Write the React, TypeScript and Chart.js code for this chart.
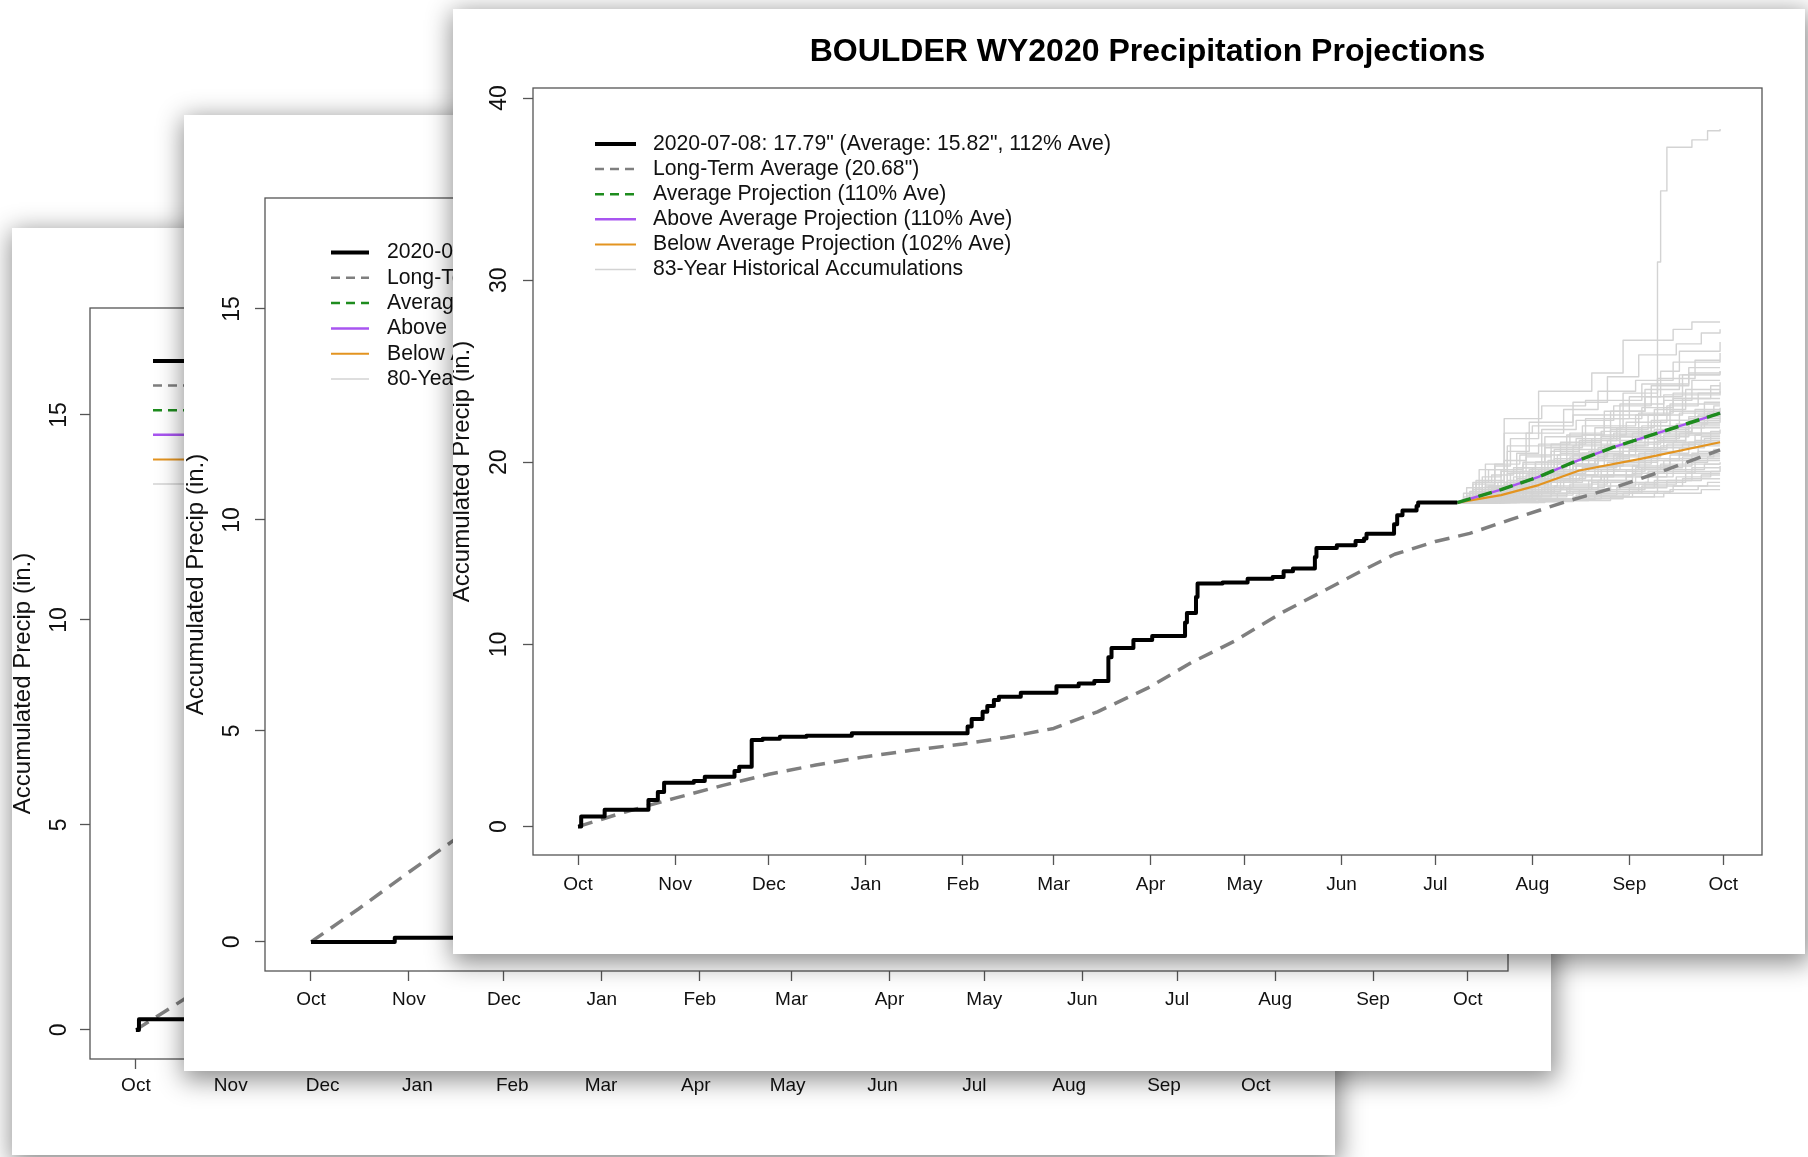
import React, { useEffect, useRef } from 'react';
import { Chart, registerables } from 'chart.js';

Chart.register(...registerables);

const FONT_FAMILY = "'Liberation Sans', Arial, Helvetica, sans-serif";
Chart.defaults.font.family = FONT_FAMILY;
Chart.defaults.color = '#111';

// ---------- shared axis data ----------
const monthDays = [0, 31, 61, 92, 123, 152, 183, 213, 244, 274, 305, 336, 366];
const monthLabels = ['Oct', 'Nov', 'Dec', 'Jan', 'Feb', 'Mar', 'Apr', 'May', 'Jun', 'Jul', 'Aug', 'Sep', 'Oct'];
const yTitle = 'Accumulated Precip (in.)';

// ---------- colours ----------
const BLACK = '#000000';
const AVG_GRAY = '#7F7F7F';
const GREEN = '#1E8C1E';
const PURPLE = '#A855F0';
const ORANGE = '#E39420';
const HIST_GRAY = '#D3D3D3';

// ---------- front chart (Boulder WY2020) ----------
const frontTitle = 'BOULDER WY2020 Precipitation Projections';
const frontYTicks = [0, 10, 20, 30, 40];
const frontLegendLabels = [
  '2020-07-08: 17.79" (Average: 15.82", 112% Ave)',
  'Long-Term Average (20.68")',
  'Average Projection (110% Ave)',
  'Above Average Projection (110% Ave)',
  'Below Average Projection (102% Ave)',
  '83-Year Historical Accumulations',
];
// [day of water year, accumulated inches] – each entry is the day a new level starts
const currentYear = [
  [0, 0], [1, 0.55], [8.5, 0.92], [22.5, 1.46], [25.5, 1.9], [27.5, 2.41], [37, 2.5], [40.5, 2.74],
  [50, 3.05], [51.5, 3.29], [55.5, 4.75], [59, 4.82], [64.5, 4.93], [73, 4.99], [87.5, 5.12],
  [124.5, 5.5], [125.8, 5.9], [129.3, 6.3], [130.8, 6.62], [132.9, 6.95], [134.5, 7.13], [141.5, 7.35],
  [152.9, 7.71], [160, 7.86], [165, 7.99], [169.5, 9.3], [170.5, 9.81], [177.5, 10.24], [183.5, 10.46],
  [194, 11.2], [194.6, 11.73], [197.5, 12.6], [198, 13.34], [206, 13.4], [214, 13.6], [222, 13.7],
  [225.5, 14.02], [228.5, 14.17], [235.5, 14.8], [236, 15.3], [242.5, 15.44], [248.5, 15.68],
  [251.2, 15.81], [252, 16.08], [260.8, 16.6], [261.8, 17.09], [263.5, 17.36], [268, 17.6],
  [268.5, 17.79], [281, 17.79],
];
const longTermAvg = [
  [0, 0], [15, 0.8], [31, 1.56], [46, 2.25], [61, 2.87], [76, 3.38], [92, 3.84], [107, 4.2],
  [123, 4.53], [137, 4.9], [152, 5.39], [166, 6.3], [182, 7.6], [196, 9.0], [210, 10.2],
  [225, 11.75], [239, 13.0], [250, 14.0], [261, 14.95], [274, 15.65], [285, 16.1], [298, 16.85],
  [315, 17.8], [331, 18.6], [348, 19.6], [365, 20.68],
];
const avgProjection = [[281, 17.79], [295, 18.5], [307, 19.2], [318, 20.0], [331, 20.83], [345, 21.6], [365, 22.7]];
const aboveProjection = [[281, 17.79], [295, 18.5], [307, 19.2], [318, 20.0], [331, 20.83], [345, 21.6], [365, 22.7]];
const belowProjection = [[281, 17.79], [295, 18.2], [307, 18.75], [320, 19.55], [340, 20.2], [365, 21.1]];
const historicalTraces = [
  [[281, 17.79], [296, 17.95], [318, 18.1], [344, 18.3], [345, 31.0], [346, 34.9], [348, 37.3], [356, 37.7], [361, 38.2], [365, 38.3]],
  [[281, 17.79], [286, 18.5], [293, 19.8], [298, 21.3], [307, 23.9], [324, 24.9], [334, 26.7], [350, 27.3], [356, 27.7], [365, 27.7]],
  [[281, 17.79], [289, 18.9], [297, 20.6], [304, 22.2], [318, 23.3], [329, 24.7], [339, 25.9], [351, 26.5], [359, 27.1], [365, 27.3]],
  [[281, 17.79], [291, 18.4], [300, 19.7], [311, 21.0], [322, 22.4], [336, 23.6], [346, 25.0], [352, 26.1], [365, 26.6]],
  [[281, 17.79], [287, 18.6], [296, 20.1], [303, 21.6], [315, 22.9], [326, 23.9], [338, 24.5], [350, 25.5], [365, 26.0]],
  [[281, 17.79], [295, 18.2], [305, 19.1], [313, 20.4], [325, 21.9], [334, 23.8], [345, 24.6], [357, 25.6], [365, 25.6]],
  [[281, 17.79], [288, 18.3], [299, 19.2], [308, 21.8], [319, 22.3], [331, 23.1], [343, 24.2], [355, 25.2], [365, 25.2]],
  [[281, 17.79], [284, 18.2], [294, 18.9], [306, 20.0], [316, 21.5], [328, 22.8], [341, 23.6], [353, 24.8], [365, 24.8]],
  [[281, 17.79], [290, 18.7], [301, 19.5], [312, 20.2], [324, 21.3], [333, 22.6], [347, 23.4], [356, 24.5], [365, 24.5]],
  [[281, 17.79], [293, 18.3], [302, 19.9], [314, 20.5], [327, 21.4], [339, 22.7], [350, 23.5], [362, 24.2], [365, 24.2]],
  [[281, 17.79], [285, 18.1], [297, 19.4], [310, 20.1], [320, 21.2], [332, 21.9], [344, 22.9], [354, 24.0], [365, 24.0]],
  [[281, 17.79], [292, 18.6], [300, 19.1], [309, 20.8], [321, 21.5], [335, 22.2], [348, 23.1], [358, 23.8], [365, 23.8]],
  [[281, 17.79], [286, 18.2], [298, 18.9], [307, 19.6], [318, 20.9], [330, 21.8], [342, 22.6], [353, 23.5], [365, 23.5]],
  [[281, 17.79], [289, 18.1], [303, 19.3], [315, 19.9], [326, 20.8], [337, 21.6], [349, 22.8], [360, 23.3], [365, 23.3]],
  [[281, 17.79], [294, 18.4], [306, 18.9], [317, 20.3], [329, 21.2], [340, 22.0], [352, 22.7], [363, 23.1], [365, 23.1]],
  [[281, 17.79], [283, 18.0], [291, 18.7], [304, 19.4], [319, 20.1], [333, 21.5], [346, 22.3], [357, 22.9], [365, 22.9]],
  [[281, 17.79], [290, 18.2], [299, 18.8], [311, 19.5], [323, 20.6], [338, 21.3], [351, 22.1], [361, 22.7], [365, 22.7]],
  [[281, 17.79], [296, 18.1], [308, 18.6], [318, 19.8], [331, 20.4], [344, 21.4], [355, 22.5], [365, 22.5]],
  [[281, 17.79], [287, 18.0], [295, 18.5], [305, 19.7], [316, 20.2], [328, 20.9], [342, 21.7], [356, 22.3], [365, 22.3]],
  [[281, 17.79], [292, 18.2], [301, 18.7], [313, 19.3], [325, 20.1], [336, 20.8], [347, 21.5], [359, 22.1], [365, 22.1]],
  [[281, 17.79], [285, 17.9], [297, 18.4], [309, 19.1], [322, 19.8], [334, 20.6], [345, 21.2], [354, 21.9], [365, 21.9]],
  [[281, 17.79], [293, 18.0], [302, 18.5], [314, 19.0], [327, 19.6], [339, 20.5], [350, 21.1], [362, 21.7], [365, 21.7]],
  [[281, 17.79], [288, 18.1], [298, 18.3], [310, 18.9], [321, 19.7], [332, 20.3], [346, 20.9], [357, 21.5], [365, 21.5]],
  [[281, 17.79], [291, 17.9], [303, 18.3], [317, 18.8], [329, 19.5], [341, 20.2], [352, 20.8], [360, 21.3], [365, 21.3]],
  [[281, 17.79], [284, 17.95], [296, 18.2], [307, 18.9], [319, 19.3], [331, 19.9], [343, 20.5], [355, 21.1], [365, 21.1]],
  [[281, 17.79], [290, 18.0], [300, 18.3], [312, 18.7], [324, 19.2], [337, 19.8], [349, 20.4], [358, 20.9], [365, 20.9]],
  [[281, 17.79], [295, 17.9], [305, 18.2], [316, 18.6], [328, 19.3], [340, 19.7], [353, 20.3], [363, 20.7], [365, 20.7]],
  [[281, 17.79], [287, 17.9], [299, 18.1], [311, 18.5], [323, 19.0], [335, 19.6], [347, 20.1], [356, 20.5], [365, 20.5]],
  [[281, 17.79], [292, 17.9], [304, 18.2], [318, 18.4], [330, 18.9], [342, 19.5], [354, 20.0], [361, 20.3], [365, 20.3]],
  [[281, 17.79], [297, 17.85], [309, 18.0], [320, 18.5], [333, 18.8], [345, 19.4], [357, 20.1], [365, 20.1]],
  [[281, 17.79], [286, 17.85], [298, 18.0], [313, 18.3], [326, 18.7], [338, 19.2], [350, 19.6], [360, 19.9], [365, 19.9]],
  [[281, 17.79], [294, 17.9], [306, 18.0], [319, 18.2], [332, 18.6], [344, 19.0], [356, 19.7], [365, 19.7]],
  [[281, 17.79], [300, 17.85], [315, 18.0], [327, 18.4], [339, 18.8], [351, 19.2], [362, 19.5], [365, 19.5]],
  [[281, 17.79], [289, 17.8], [303, 17.95], [322, 18.2], [336, 18.6], [348, 19.0], [359, 19.3], [365, 19.3]],
  [[281, 17.79], [298, 17.85], [312, 17.95], [325, 18.3], [340, 18.7], [353, 19.1], [365, 19.1]],
  [[281, 17.79], [307, 17.9], [323, 18.1], [337, 18.4], [350, 18.7], [361, 18.9], [365, 18.9]],
  [[281, 17.79], [301, 17.85], [318, 18.0], [334, 18.3], [349, 18.5], [358, 18.7], [365, 18.7]],
  [[281, 17.79], [309, 17.9], [330, 18.1], [347, 18.3], [359, 18.5], [365, 18.5]],
  [[281, 17.79], [288, 19.6], [297, 20.9], [309, 21.4], [321, 22.0], [338, 22.6], [349, 23.2], [365, 23.2]],
  [[281, 17.79], [286, 18.8], [293, 19.9], [301, 20.4], [314, 21.1], [327, 21.7], [343, 22.3], [358, 22.6], [365, 22.6]],
  [[281, 17.79], [289, 18.5], [297, 19.0], [309, 19.6], [321, 20.5], [334, 21.0], [346, 21.6], [356, 22.0], [365, 22.0]],
  [[281, 17.79], [283, 18.3], [292, 18.6], [305, 19.1], [317, 19.5], [329, 20.0], [341, 20.6], [353, 21.0], [365, 21.0]],
  [[281, 17.79], [294, 18.6], [306, 19.0], [320, 19.2], [331, 19.6], [346, 19.9], [365, 20.0]],
  [[281, 17.79], [290, 18.4], [311, 19.3], [326, 19.8], [339, 20.1], [352, 20.4], [365, 20.4]],
  [[281, 17.79], [298, 18.9], [312, 20.7], [330, 22.8], [341, 24.0], [352, 24.8], [365, 25.0]],
  [[281, 17.79], [285, 18.4], [290, 19.9], [296, 22.4], [308, 23.1], [322, 23.4], [340, 24.3], [355, 24.9], [365, 25.0]],
  [[281, 17.79], [287, 19.0], [296, 21.6], [305, 22.0], [318, 22.6], [333, 23.2], [347, 23.7], [365, 23.9]],
  [[281, 17.79], [284, 18.6], [289, 19.2], [295, 19.5], [303, 20.3], [311, 20.6], [320, 21.0], [333, 21.4], [344, 21.8], [355, 22.2], [365, 22.4]],
  [[281, 17.79], [283, 18.1], [287, 18.9], [292, 19.3], [299, 19.7], [306, 20.0], [318, 20.4], [329, 20.9], [341, 21.3], [352, 21.6], [365, 21.8]],
  [[281, 17.79], [285, 18.3], [291, 18.6], [298, 19.4], [304, 19.6], [313, 19.9], [325, 20.2], [336, 20.7], [348, 21.0], [359, 21.4], [365, 21.4]],
  [[281, 17.79], [286, 18.0], [292, 18.4], [300, 18.8], [310, 19.5], [319, 19.8], [328, 20.4], [338, 21.1], [351, 21.9], [360, 22.8], [365, 23.0]],
  [[281, 17.79], [288, 18.2], [296, 18.8], [302, 19.0], [312, 19.4], [322, 19.6], [333, 20.0], [345, 20.8], [357, 21.2], [365, 21.2]],
  [[281, 17.79], [290, 18.1], [297, 18.3], [305, 18.6], [315, 19.0], [327, 19.3], [338, 19.7], [349, 20.2], [358, 20.6], [365, 20.6]],
  [[281, 17.79], [283, 17.9], [293, 18.1], [302, 18.4], [314, 18.6], [326, 19.0], [337, 19.4], [347, 19.8], [356, 20.2], [365, 20.2]],
  [[281, 17.79], [287, 18.0], [301, 18.1], [316, 18.4], [328, 18.5], [341, 18.9], [354, 19.4], [365, 19.4]],
  [[281, 17.79], [286, 18.9], [291, 19.6], [300, 20.5], [307, 21.0], [317, 21.6], [328, 22.4], [340, 23.0], [350, 23.8], [365, 24.4]],
  [[281, 17.79], [289, 18.3], [295, 19.6], [302, 20.0], [309, 20.9], [319, 21.3], [331, 21.6], [343, 22.0], [355, 22.4], [365, 22.8]],
  [[281, 17.79], [292, 18.5], [300, 18.9], [308, 19.2], [318, 19.9], [326, 20.3], [336, 20.6], [344, 21.1], [354, 21.6], [365, 21.6]],
  [[281, 17.79], [296, 18.0], [305, 18.4], [314, 18.5], [324, 18.9], [335, 19.2], [348, 19.5], [365, 19.8]],
];

// ---------- middle chart (partly hidden) ----------
const midYTicks = [0, 5, 10, 15];
const midLegendLabels = ['2020-0', 'Long-Term Average', 'Average Projection', 'Above Average Projection', 'Below Average Projection', '80-Year Historical Accumulations'];
const midCurrent = [[0, 0], [26.5, 0.1], [70, 0.1]];
const midAvg = [[0, 0], [15, 0.78], [30, 1.6], [45, 2.4], [60, 3.2]];

// ---------- back chart (partly hidden) ----------
const backYTicks = [0, 5, 10, 15];
const backLegendLabels = ['2020-0', 'Long-Term Average', 'Average Projection', 'Above Average Projection', 'Below Average Projection', 'Historical Accumulations'];
const backCurrent = [[0, 0], [1, 0.26], [25, 0.26]];
const backAvg = [[0, 0], [16, 0.76], [31, 1.5]];

// legend sample styles (same order in every legend)
const legendStyles = [
  { color: BLACK, width: 4, dash: [] },
  { color: AVG_GRAY, width: 2.5, dash: [9, 6] },
  { color: GREEN, width: 2.5, dash: [9, 6] },
  { color: PURPLE, width: 2.5, dash: [] },
  { color: ORANGE, width: 2, dash: [] },
  { color: HIST_GRAY, width: 1.5, dash: [] },
];

const SHADOW = '2px 6px 24px 3px rgba(0,0,0,0.45)';

function line(data, color, width, dash, stepped) {
  return {
    data: data.map(([x, y]) => ({ x, y })),
    borderColor: color,
    borderWidth: width,
    borderDash: dash || [],
    // 'before': hold the previous level until the next point's x, then jump
    stepped: stepped ? 'before' : false,
    pointRadius: 0,
    fill: false,
    tension: 0,
    borderCapStyle: 'butt',
    borderJoinStyle: 'round',
  };
}

function makeDecor(spec) {
  return {
    id: 'rDecor',
    afterDatasetsDraw(chart) {
      const { ctx, chartArea } = chart;
      ctx.save();
      ctx.strokeStyle = '#555';
      ctx.lineWidth = 1.3;
      ctx.setLineDash([]);
      ctx.strokeRect(chartArea.left, chartArea.top, chartArea.right - chartArea.left, chartArea.bottom - chartArea.top);
      if (spec.title) {
        ctx.fillStyle = '#000';
        ctx.font = `bold 32px ${FONT_FAMILY}`;
        ctx.textAlign = 'center';
        ctx.textBaseline = 'middle';
        ctx.fillText(spec.title, (chartArea.left + chartArea.right) / 2, spec.titleY);
      }
      const lg = spec.legend;
      lg.labels.forEach((label, i) => {
        const st = legendStyles[i];
        const y = lg.y0 + i * lg.rowH;
        ctx.beginPath();
        ctx.setLineDash(st.dash);
        ctx.strokeStyle = st.color;
        ctx.lineWidth = st.width;
        ctx.lineCap = 'butt';
        ctx.moveTo(lg.x1, y);
        ctx.lineTo(lg.x2, y);
        ctx.stroke();
        ctx.setLineDash([]);
        ctx.fillStyle = '#111';
        ctx.font = `21.2px ${FONT_FAMILY}`;
        ctx.textAlign = 'left';
        ctx.textBaseline = 'middle';
        ctx.fillText(label, lg.tx, y);
      });
      ctx.restore();
    },
  };
}

function buildConfig(spec) {
  const a = spec.area;
  const gridOpts = { drawOnChartArea: false, drawTicks: true, tickLength: 10, tickColor: '#555', tickWidth: 1.3, display: true };
  return {
    type: 'line',
    data: { datasets: spec.datasets },
    plugins: [makeDecor(spec)],
    options: {
      responsive: false,
      animation: false,
      devicePixelRatio: 1,
      layout: { padding: { left: 0, top: a.top, right: spec.w - a.right, bottom: 0 } },
      plugins: { legend: { display: false }, tooltip: { enabled: false }, title: { display: false } },
      elements: { point: { radius: 0 } },
      scales: {
        x: {
          type: 'linear',
          min: spec.xMin,
          max: spec.xMax,
          afterFit: (s) => { s.height = spec.h - a.bottom; },
          afterBuildTicks: (s) => { s.ticks = monthDays.map((v) => ({ value: v })); },
          ticks: {
            callback: (v, i) => monthLabels[i],
            font: { size: 19 },
            color: '#111',
            padding: spec.xTickPad,
            minRotation: 0,
            maxRotation: 0,
            autoSkip: false,
          },
          grid: gridOpts,
          border: { display: false },
        },
        y: {
          type: 'linear',
          min: spec.yMin,
          max: spec.yMax,
          afterFit: (s) => { s.width = a.left; },
          afterBuildTicks: (s) => { s.ticks = spec.yTicks.map((v) => ({ value: v })); },
          ticks: {
            minRotation: 90,
            maxRotation: 90,
            crossAlign: 'center',
            padding: spec.yTickPad,
            font: { size: 23 },
            color: '#111',
          },
          grid: gridOpts,
          border: { display: false },
          title: {
            display: true,
            text: yTitle,
            color: '#111',
            font: { size: 24, lineHeight: (2 * spec.yTitleOffset) / 24 },
            padding: 0,
          },
        },
      },
    },
  };
}

function RChart({ spec }) {
  const ref = useRef(null);
  useEffect(() => {
    const chart = new Chart(ref.current, buildConfig(spec));
    return () => chart.destroy();
  }, []);
  return (
    <div
      style={{
        position: 'absolute',
        left: spec.x,
        top: spec.y,
        width: spec.w,
        height: spec.h,
        background: '#fff',
        boxShadow: SHADOW,
        zIndex: spec.z,
      }}
    >
      <canvas ref={ref} width={spec.w} height={spec.h} style={{ display: 'block', width: spec.w, height: spec.h }} />
    </div>
  );
}

const backSpec = {
  x: 12, y: 228, w: 1323, h: 927, z: 1,
  area: { left: 78, top: 80, right: 1283, bottom: 831 },
  xMin: -15, xMax: 378.8, yMin: -0.71, yMax: 17.61, yTicks: backYTicks,
  yTickPad: 7.2, xTickPad: 5.6, yTitleOffset: 11,
  legend: { x1: 141, x2: 180, tx: 197, y0: 133, rowH: 24.6, labels: backLegendLabels },
  datasets: [
    line(backCurrent, BLACK, 4, [], true),
    line(backAvg, AVG_GRAY, 3.5, [15, 9], false),
  ],
};

const midSpec = {
  x: 184, y: 115, w: 1367, h: 956, z: 2,
  area: { left: 81, top: 83, right: 1324, bottom: 856 },
  xMin: -14.55, xMax: 378.7, yMin: -0.69, yMax: 17.63, yTicks: midYTicks,
  yTickPad: 9.2, xTickPad: 7.6, yTitleOffset: 12,
  legend: { x1: 147, x2: 185, tx: 203, y0: 137.5, rowH: 25.3, labels: midLegendLabels },
  datasets: [
    line(midCurrent, BLACK, 4, [], true),
    line(midAvg, AVG_GRAY, 3.5, [15, 9], false),
  ],
};

const frontSpec = {
  x: 453, y: 9, w: 1352, h: 945, z: 3,
  area: { left: 80, top: 79, right: 1309, bottom: 846 },
  xMin: -14.4, xMax: 378.4, yMin: -1.56, yMax: 40.55, yTicks: frontYTicks,
  yTickPad: 10.2, xTickPad: 8.6, yTitleOffset: 9,
  title: frontTitle, titleY: 43,
  legend: { x1: 142, x2: 183, tx: 200, y0: 135, rowH: 25.1, labels: frontLegendLabels },
  datasets: [
    line(currentYear, BLACK, 4, [], true),
    line(avgProjection, GREEN, 3.5, [14, 8], false),
    line(aboveProjection, PURPLE, 2.5, [], false),
    line(belowProjection, ORANGE, 2.2, [], false),
    line(longTermAvg, AVG_GRAY, 3.5, [15, 9], false),
    ...historicalTraces.map((t) => line(t, HIST_GRAY, 1.4, [], true)),
  ],
};

export default function App() {
  return (
    <div style={{ position: 'absolute', left: 0, top: 0, width: 1808, height: 1157, overflow: 'hidden', background: '#fff' }}>
      <RChart spec={backSpec} />
      <RChart spec={midSpec} />
      <RChart spec={frontSpec} />
    </div>
  );
}
